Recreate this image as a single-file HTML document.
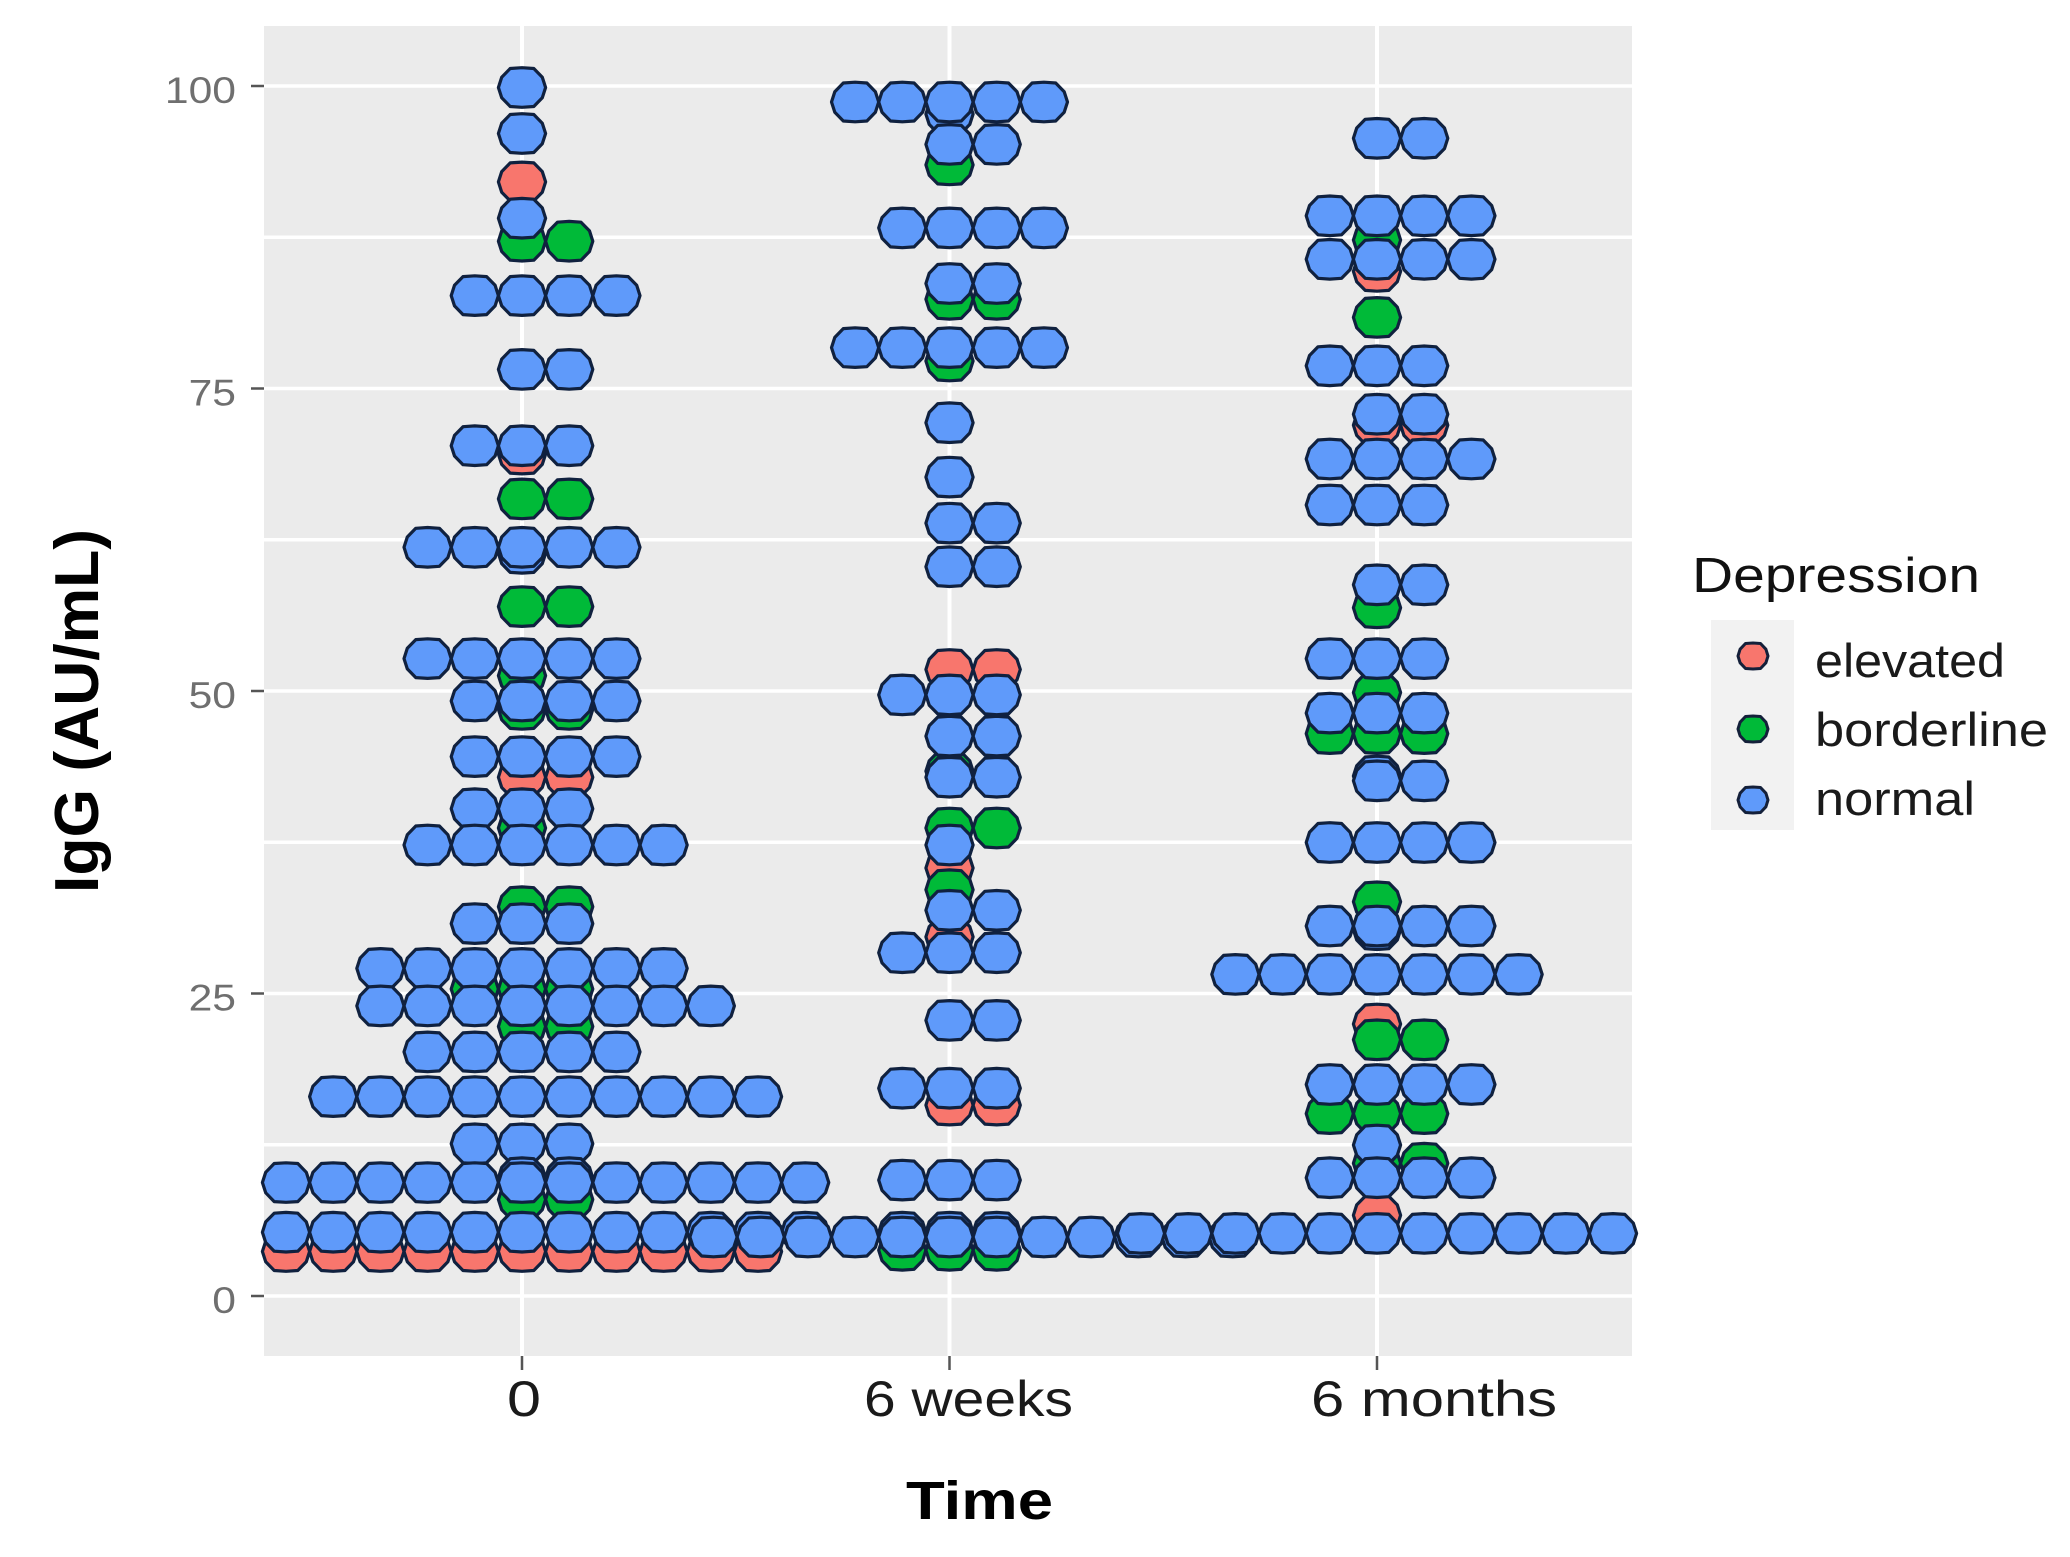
<!DOCTYPE html>
<html lang="en">
<head>
<meta charset="utf-8">
<title>IgG by time and depression</title>
<style>
html,body{margin:0;padding:0;background:#fff;}
svg{display:block;}
text{font-family:"Liberation Sans",sans-serif;}
</style>
</head>
<body>
<svg id="chart" width="2070" height="1557" viewBox="0 0 2070 1557" xmlns="http://www.w3.org/2000/svg">
  <rect x="264" y="26" width="1368" height="1330" fill="#EBEBEB"/>
  <g id="grid"></g>
  <g id="dots"></g>
  <g id="axes"></g>
  <text transform="translate(98,893) rotate(-90)" font-size="62" font-weight="700" fill="#000" textLength="364" lengthAdjust="spacingAndGlyphs">IgG (AU/mL)</text>
  <text x="906" y="1519" font-size="54" font-weight="700" fill="#000" textLength="147" lengthAdjust="spacingAndGlyphs">Time</text>
  <g id="legend">
    <text x="1692" y="592" font-size="49" fill="#111" textLength="288" lengthAdjust="spacingAndGlyphs">Depression</text>
    <rect x="1711" y="620" width="83" height="210" fill="#F2F2F2"/>
  </g>
</svg>
<script>
const timeLabels = ['0', '6 weeks', '6 months'];
const yTicks = [0, 25, 50, 75, 100];
const yMinorTicks = [12.5, 37.5, 62.5, 87.5];
const legendLabels = ['elevated', 'borderline', 'normal'];

// Each pair: [IgG value, number of stacked dots in that bin]
const elevatedTime0 = [[92.2,1],[69.7,1],[43,2],[3.8,11]];
const elevatedWeeks = [[51.9,2],[35.5,1],[29.8,1],[15.9,2]];
const elevatedMonths = [[84.8,1],[72.1,2],[22.6,1],[6.8,1]];

const borderlineTime0 = [[87.3,2],[66,2],[57.1,2],[51.4,1],[48.6,2],[38.8,1],[32.3,2],[25.5,3],[22.4,2],[8.1,2]];
const borderlineWeeks = [[93.6,1],[82.5,2],[77.4,1],[43.5,1],[38.8,2],[33.7,1],[3.9,3]];
const borderlineMonths = [[87.4,1],[81,1],[57,1],[50,1],[46.6,3],[32.7,1],[21.3,2],[15.2,3],[11.1,2]];

const normalTime0 = [[100,1],[96.2,1],[89.2,1],[82.8,4],[76.7,2],[70.4,3],[61.5,1],[62,5],[52.8,5],[49.3,4],[44.7,4],[40.4,3],[37.4,6],[30.9,3],[27.2,7],[24.1,8],[20.3,5],[16.6,10],[12.7,3],[9.9,2],[9.5,12],[5.4,12]];
const normalWeeks = [[97.8,1],[98.8,5],[95.3,2],[88.4,4],[83.8,2],[78.5,5],[72.3,1],[67.8,1],[64,2],[60.4,2],[49.8,3],[46.4,2],[43,2],[37.4,1],[32,2],[28.5,3],[22.9,2],[17.3,3],[9.7,3],[5.4,3],[5,12]];
const normalMonths = [[95.8,2],[89.4,4],[85.8,4],[77,3],[73,2],[69.3,4],[65.5,3],[58.9,2],[52.8,3],[48.3,3],[43.1,1],[42.7,2],[37.6,4],[30.4,1],[30.7,4],[26.7,7],[17.6,4],[12.6,1],[9.9,4],[5.3,11]];

const seriesElevated = [elevatedTime0, elevatedWeeks, elevatedMonths];
const seriesBorderline = [borderlineTime0, borderlineWeeks, borderlineMonths];
const seriesNormal = [normalTime0, normalWeeks, normalMonths];

const SVGNS = 'http://www.w3.org/2000/svg';
const colorElevated = '#F8766D', colorBorderline = '#00BA38', colorNormal = '#5F9AFA';
const legendColors = [colorElevated, colorBorderline, colorNormal];
const dotStep = 47.2;

function xScale(i) { return 522 + i * 427.5; }
function yScale(v) { return 1296 - v * 12.1; }

function make(tag, attrs, parent) {
  const el = document.createElementNS(SVGNS, tag);
  for (const k in attrs) el.setAttribute(k, attrs[k]);
  parent.appendChild(el);
  return el;
}
function dotPoints(cx, cy, rx, ry) {
  const shape = [[1,0],[.86,.52],[.5,.96],[0,1],[-.5,.96],[-.86,.52],[-1,0],[-.86,-.52],[-.5,-.96],[0,-1],[.5,-.96],[.86,-.52]];
  return shape.map(p => (cx + p[0] * rx).toFixed(1) + ',' + (cy + p[1] * ry).toFixed(1)).join(' ');
}

const grid = document.getElementById('grid');
yMinorTicks.concat(yTicks).forEach(v => {
  const line = make('line', {x1: 264, x2: 1632, y1: yScale(v), y2: yScale(v), stroke: '#fff', 'stroke-width': 3.5}, grid);
  
  
});
timeLabels.forEach((t, i) => {
  const line = make('line', {x1: xScale(i), x2: xScale(i), y1: 26, y2: 1356, stroke: '#fff', 'stroke-width': 4}, grid);
  
  
});

const dots = document.getElementById('dots');
function drawSeries(series, color, name) {
  series.forEach((rows, t) => {
    rows.forEach(row => {
      const value = row[0], count = row[1];
      const start = -Math.floor((count - 1) / 2);
      for (let k = 0; k < count; k++) {
        const cx = xScale(t) + (start + k) * dotStep;
        const dot = make('polygon', {points: dotPoints(cx, yScale(value) + 1.5, 23.6, 19.8), fill: color, stroke: '#10213f', 'stroke-width': 3.2, 'stroke-linejoin': 'round'}, dots);
        
        
      }
    });
  });
}
drawSeries(seriesElevated, colorElevated, 'elevated');
drawSeries(seriesBorderline, colorBorderline, 'borderline');
drawSeries(seriesNormal, colorNormal, 'normal');

const axes = document.getElementById('axes');
yTicks.forEach(v => {
  const tick = make('line', {x1: 251, x2: 264, y1: yScale(v), y2: yScale(v), stroke: '#555', 'stroke-width': 2.5}, axes);
  
  
  const label = make('text', {x: 236, y: yScale(v) + 17, 'font-size': 37, fill: '#6f6f6f', 'text-anchor': 'end', textLength: String(v).length * 23.7, lengthAdjust: 'spacingAndGlyphs'}, axes);
  label.textContent = String(v);
  
  
});
const xLabelWidths = [34, 209, 246];
const xLabelLefts = [507, 864, 1311];
timeLabels.forEach((t, i) => {
  const tick = make('line', {x1: xScale(i), x2: xScale(i), y1: 1356, y2: 1370, stroke: '#555', 'stroke-width': 2.5}, axes);
  
  
  const label = make('text', {x: xLabelLefts[i], y: 1416, 'font-size': 50, fill: '#1a1a1a', textLength: xLabelWidths[i], lengthAdjust: 'spacingAndGlyphs'}, axes);
  label.textContent = t;
  
  
});

const legend = document.getElementById('legend');
const legendDotY = [656, 729, 800];
const legendTextY = [677, 746, 815];
const legendTextW = [190, 233, 160];
legendLabels.forEach((name, i) => {
  const key = make('polygon', {points: dotPoints(1753, legendDotY[i], 15, 13), fill: legendColors[i], stroke: '#14203a', 'stroke-width': 3, 'stroke-linejoin': 'round'}, legend);
  
  
  const label = make('text', {x: 1815, y: legendTextY[i], 'font-size': 47, fill: '#1a1a1a', textLength: legendTextW[i], lengthAdjust: 'spacingAndGlyphs'}, legend);
  label.textContent = name;
  
  
});
</script>
</body>
</html>
